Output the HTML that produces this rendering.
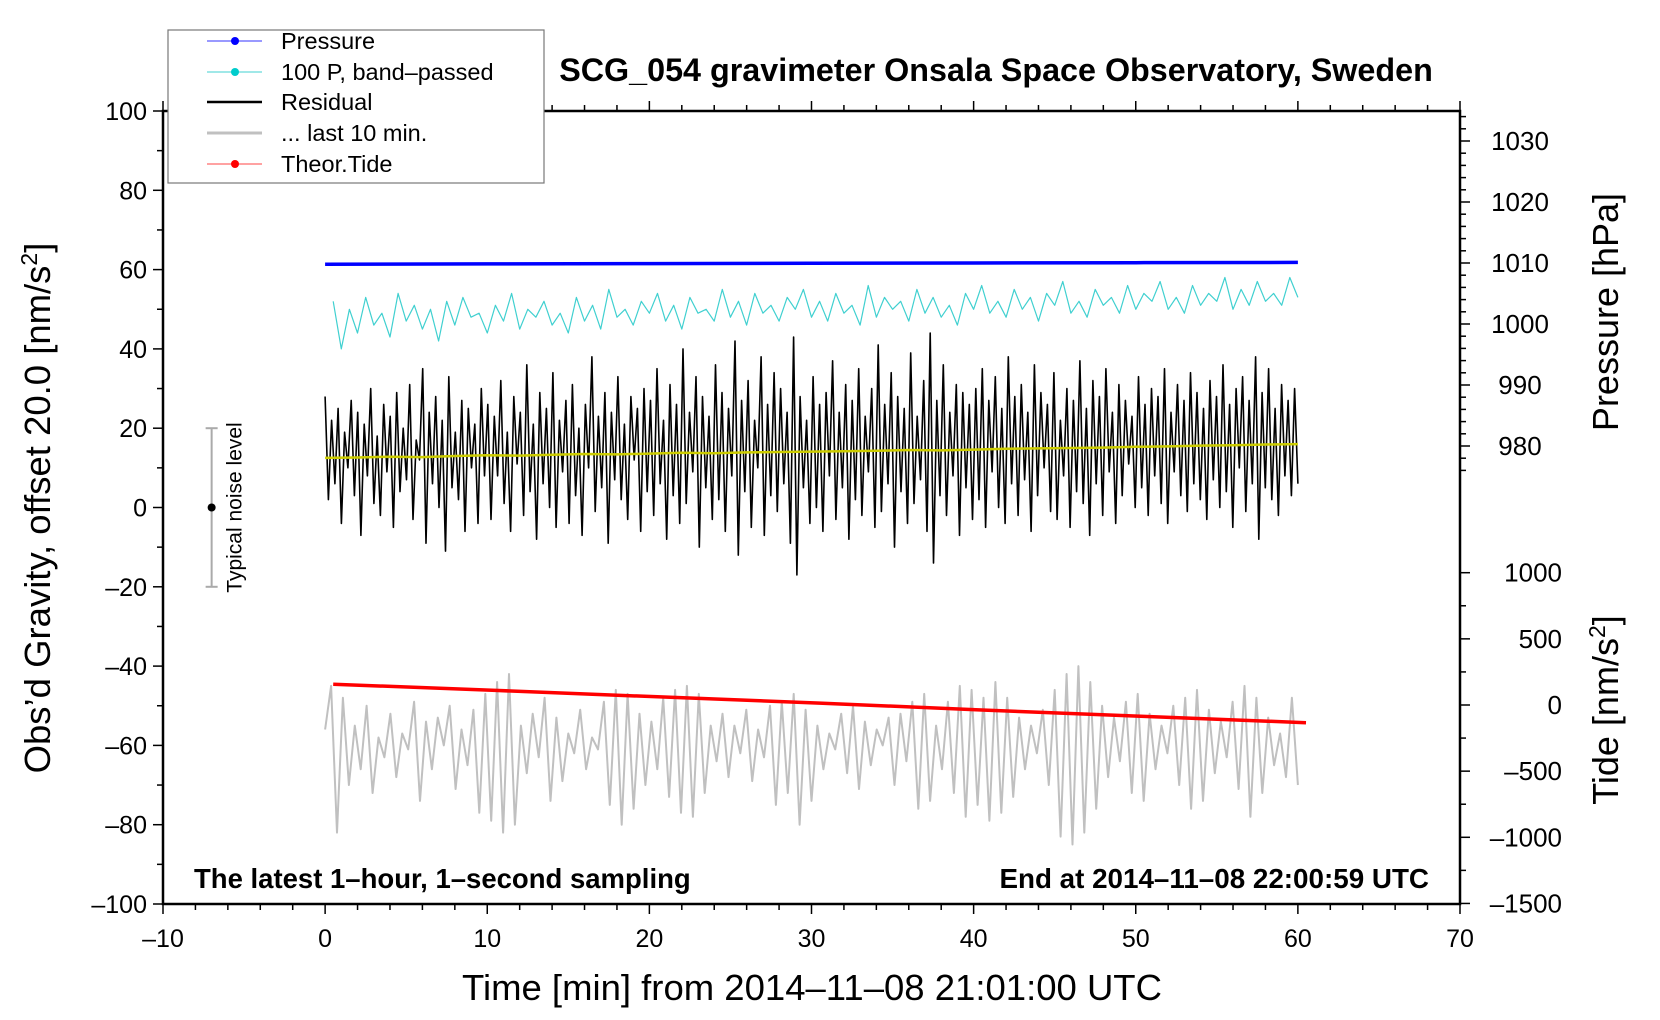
<!DOCTYPE html>
<html><head><meta charset="utf-8"><style>
html,body{margin:0;padding:0;background:#fff;}
svg{display:block;font-family:"Liberation Sans",Arial,sans-serif;}
</style></head><body>
<svg id="chart" width="1660" height="1020" viewBox="0 0 1660 1020" xmlns="http://www.w3.org/2000/svg">
<rect width="1660" height="1020" fill="#fff"/>
<g id="marks"></g>
<g id="axes"></g>
<text x="996" y="81" font-size="32.3" font-weight="bold" text-anchor="middle">SCG_054 gravimeter Onsala Space Observatory, Sweden</text>
<text x="194" y="888" font-size="27.5" font-weight="bold">The latest 1–hour, 1–second sampling</text>
<text x="1429" y="888" font-size="27.8" font-weight="bold" text-anchor="end">End at 2014–11–08 22:00:59 UTC</text>
<text x="812" y="1000" font-size="36.5" text-anchor="middle">Time [min] from 2014–11–08 21:01:00 UTC</text>
<text transform="translate(50,508) rotate(-90)" font-size="36.5" text-anchor="middle">Obs’d Gravity, offset 20.0 [nm/s<tspan baseline-shift="super" font-size="23">2</tspan>]</text>
<text transform="translate(1618,312) rotate(-90)" font-size="36" text-anchor="middle">Pressure [hPa]</text>
<text transform="translate(1618,710) rotate(-90)" font-size="36" text-anchor="middle">Tide [nm/s<tspan baseline-shift="super" font-size="23">2</tspan>]</text>
<g>
<rect x="168" y="30" width="376" height="153" fill="#fff" stroke="#777" stroke-width="1.2"/>
<line x1="207" y1="41" x2="262" y2="41" stroke="#3333ff" stroke-width="1"/><circle cx="235" cy="41" r="4" fill="#0000ff"/>
<text x="281" y="49" font-size="23.5">Pressure</text>
<line x1="207" y1="72" x2="262" y2="72" stroke="#40d0d0" stroke-width="1"/><circle cx="235" cy="72" r="4" fill="#00cccc"/>
<text x="281" y="80" font-size="23.5">100 P, band–passed</text>
<line x1="207" y1="102" x2="262" y2="102" stroke="#000" stroke-width="2.5"/>
<text x="281" y="110" font-size="23.5">Residual</text>
<line x1="207" y1="133" x2="262" y2="133" stroke="#c0c0c0" stroke-width="3"/>
<text x="281" y="141" font-size="23.5">... last 10 min.</text>
<line x1="207" y1="164" x2="262" y2="164" stroke="#ff4444" stroke-width="1"/><circle cx="235" cy="164" r="4" fill="#ff0000"/>
<text x="281" y="172" font-size="23.5">Theor.Tide</text>
</g>
</svg>
<script>
const residual=[28,2,22,6,25,-4,19,10,27,3,24,-7,21,8,30,1,18,-2,26,9,23,-5,29,4,20,7,31,-3,17,12,35,-9,24,6,28,0,22,-11,33,5,19,2,27,-6,25,10,21,-4,30,8,
26,-3,23,8,32,1,19,-6,28,11,24,-2,36,4,21,-8,29,6,25,0,34,-5,22,9,27,-4,31,3,20,-7,26,10,38,-1,23,5,29,-9,24,7,33,2,21,-3,28,12,25,-6,30,4,
27,-2,35,6,22,-8,31,3,26,-4,40,1,24,9,33,-10,28,5,23,-3,36,2,29,-6,25,8,42,-12,27,4,32,-5,22,10,38,-7,26,3,34,-1,30,6,24,-9,43,-17,28,5,22,-4,
33,0,26,-6,29,8,37,-3,24,5,31,-8,27,2,35,-2,23,9,30,-5,41,-1,26,6,34,-10,28,4,25,-4,39,1,23,7,32,-6,44,-14,27,3,36,-2,24,8,31,-7,29,5,26,-3,
30,2,35,-5,27,9,33,0,25,-4,38,6,28,-2,31,7,24,-6,36,3,29,10,26,-1,34,-3,22,8,30,-5,27,4,37,1,25,-7,32,6,28,-2,35,9,24,-4,31,3,27,11,23,0,
33,5,26,-2,30,8,28,1,35,-4,24,9,31,3,27,-1,34,6,29,2,25,-3,32,7,28,0,36,4,26,-5,30,10,33,-1,27,6,38,-8,29,5,35,2,25,-2,31,8,27,3,30,6];
const smoothRes=[12.5,12.6,12.8,12.7,13,13.2,13.1,13.3,13.5,13.4,13.6,13.8,13.7,13.9,14,14.1,14.2,14.3,14.5,14.4,14.6,14.8,14.9,15,15.1,15.3,15.4,15.6,15.7,15.9,16];
const bandPassed=[52,40,50,44,53,46,49,43,54,47,51,45,50,42,52,46,53,48,49,44,51,47,54,45,50,48,52,46,49,44,53,47,51,45,55,48,50,46,52,49,54,47,51,45,53,49,50,47,55,48,52,46,54,49,51,47,53,50,55,48,52,47,54,49,51,46,56,48,53,50,52,47,55,49,53,48,51,46,54,50,56,49,52,48,55,50,53,47,54,51,57,49,52,48,55,51,53,49,56,50,54,52,57,50,53,49,56,51,54,52,58,50,55,51,57,52,54,51,58,53];
const last10=[-56,-45,-82,-48,-70,-55,-66,-50,-72,-58,-63,-52,-68,-57,-61,-49,-74,-54,-66,-53,-60,-50,-71,-56,-65,-51,-77,-47,-79,-44,-82,-42,-80,-55,-67,-52,-63,-48,-74,-53,-69,-57,-62,-51,-66,-58,-61,-49,-75,-46,-80,-47,-76,-52,-70,-54,-66,-48,-73,-46,-77,-45,-78,-47,-72,-55,-64,-52,-68,-55,-62,-51,-69,-56,-63,-50,-75,-49,-72,-47,-80,-51,-74,-55,-66,-57,-61,-52,-67,-50,-71,-54,-65,-56,-60,-53,-70,-52,-64,-49,-76,-47,-74,-55,-66,-49,-72,-45,-78,-46,-75,-48,-79,-44,-77,-48,-73,-53,-66,-55,-62,-51,-70,-46,-83,-42,-85,-40,-82,-44,-76,-50,-68,-53,-64,-49,-72,-47,-74,-52,-66,-55,-62,-50,-70,-48,-76,-46,-74,-51,-67,-54,-63,-49,-71,-45,-78,-48,-72,-53,-65,-57,-68,-48,-70];
const pressure=[1009.8,1009.85,1009.9,1009.95,1010,1010.05,1010.1];
const tide=[157,110,62,14,-38,-86,-134];
const xTicks=[-10,0,10,20,30,40,50,60,70];
const yTicks=[-100,-80,-60,-40,-20,0,20,40,60,80,100];
const pTicks=[980,990,1000,1010,1020,1030];
const tTicks=[-1500,-1000,-500,0,500,1000];

const NS='http://www.w3.org/2000/svg';
const L=163,R=1460,T=111,B=904;
const xs=v=>L+(v+10)/80*(R-L);
const ys=v=>B-(v+100)/200*(B-T);
const yp=v=>263+(1010-v)*6.1;
const yt=v=>705-v*0.1323;
const marks=document.getElementById('marks'),axes=document.getElementById('axes');
function el(tag,attrs,parent){const e=document.createElementNS(NS,tag);for(const k in attrs)e.setAttribute(k,attrs[k]);parent.appendChild(e);return e;}
function series(arr,t0,t1,yf,color,w,name){
  const pts=arr.map((v,i)=>xs(t0+(t1-t0)*i/(arr.length-1)).toFixed(1)+','+yf(v).toFixed(1)).join(' ');
  const p=el('polyline',{points:pts,fill:'none',stroke:color,'stroke-width':w,'stroke-linejoin':'round'},marks);
  
  
}
series(last10,0,60,ys,'#c0c0c0',2,'last-10-min-line');
series(residual,0,60,ys,'#000',1.6,'residual-line');
series(smoothRes,0,60,ys,'#cccc00',2.5,'residual-smoothed-line');
series(bandPassed,0.5,60,ys,'#40d0d0',1.2,'band-passed-pressure-line');
series(pressure,0,60,yp,'#0000ff',3.5,'pressure-line');
series(tide,0.5,60.5,yt,'#ff0000',3.5,'theoretical-tide-line');
const nb=el('g',{},marks);


el('line',{x1:xs(-7),x2:xs(-7),y1:ys(20),y2:ys(-20),stroke:'#aaa','stroke-width':2},nb);
el('line',{x1:xs(-7)-6,x2:xs(-7)+6,y1:ys(20),y2:ys(20),stroke:'#aaa','stroke-width':2},nb);
el('line',{x1:xs(-7)-6,x2:xs(-7)+6,y1:ys(-20),y2:ys(-20),stroke:'#aaa','stroke-width':2},nb);
el('circle',{cx:xs(-7),cy:ys(0),r:4,fill:'#000'},nb);
const nt=el('text',{transform:`translate(${xs(-7)+30},${ys(0)}) rotate(-90)`,'font-size':21,'text-anchor':'middle'},nb);
nt.textContent='Typical noise level';
const fr=el('rect',{x:L,y:T,width:R-L,height:B-T,fill:'none',stroke:'#000','stroke-width':2.5},axes);


for(let v=-10;v<=70;v+=2){const maj=(v%10===0);const x=xs(v);
  el('line',{x1:x,x2:x,y1:B,y2:B+(maj?10:6),stroke:'#000','stroke-width':1.5},axes);
  el('line',{x1:x,x2:x,y1:T,y2:T-(maj?10:6),stroke:'#000','stroke-width':1.5},axes);}
xTicks.forEach(v=>{const t=el('text',{x:xs(v),y:947,'font-size':25,'text-anchor':'middle'},axes);
  
  
  t.textContent=String(v).replace('-','–');});
for(let v=-100;v<=100;v+=10){const y=ys(v);el('line',{x1:L,x2:L-(v%20===0?10:6),y1:y,y2:y,stroke:'#000','stroke-width':1.5},axes);}
yTicks.forEach(v=>{const t=el('text',{x:L-16,y:ys(v)+9,'font-size':25,'text-anchor':'end'},axes);
  
  
  t.textContent=String(v).replace('-','–');});
for(let v=974;v<=1036;v+=2){const y=yp(v);if(y<T||y>480)continue;el('line',{x1:R,x2:R+(v%10===0?10:6),y1:y,y2:y,stroke:'#000','stroke-width':1.5},axes);}
pTicks.forEach(v=>{const t=el('text',{x:1520,y:yp(v)+9,'font-size':26,'text-anchor':'middle'},axes);
  
  
  t.textContent=String(v);});
for(let v=-1500;v<=1000;v+=250){const y=yt(v);el('line',{x1:R,x2:R+(v%500===0?10:6),y1:y,y2:y,stroke:'#000','stroke-width':1.5},axes);}
tTicks.forEach(v=>{const t=el('text',{x:1562,y:yt(v)+9,'font-size':26,'text-anchor':'end'},axes);
  
  
  t.textContent=String(v).replace('-','–');});
</script>
</body></html>
